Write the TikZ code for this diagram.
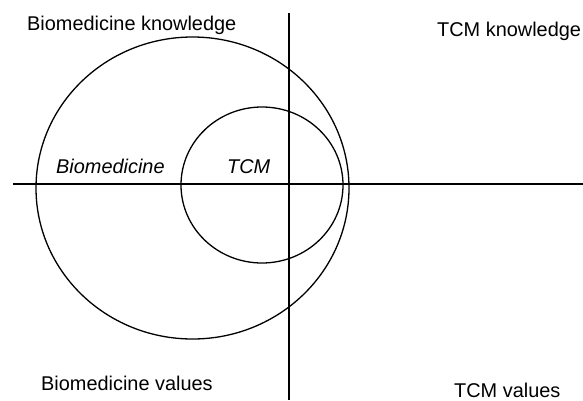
\documentclass[tikz,border=0pt]{standalone}
\usepackage{fontspec}
\setmainfont{Liberation Sans}
\usepackage{tikz}
\usetikzlibrary{positioning}

\begin{document}
\begin{tikzpicture}[x=1pt,y=-1pt,
  label/.style={font=\fontsize{19.9}{20}\selectfont, inner sep=0pt, anchor=base west},
  axis/.style={line width=2pt},
  ring/.style={line width=1.3pt}]
\useasboundingbox (0,0) rectangle (583,400);

% axes
\coordinate (top) at (289, 13);
\coordinate (bottom) at (289, 400);
\coordinate (left) at (13, 184);
\coordinate (right) at (583, 184);
\draw [axis] (top) -- (bottom);
\draw [axis] (left) -- (right);

% the two fields
\draw [ring] (192.5, 188) ellipse [x radius=156.5, y radius=151];
\draw [ring] (262, 185) ellipse [x radius=81, y radius=78];

% quadrant texts
\node (bk) at (27, 30) [label] {Biomedicine knowledge};
\node (tk) at (437, 36) [label] {TCM knowledge};
\node (bv) at (41, 390) [label] {Biomedicine values};
\node (tv) at (454, 397) [label] {TCM values};

\node (bio) at (56, 173) [label] {\itshape Biomedicine};
\node (tcm) at (227, 173) [label] {\itshape TCM};
\end{tikzpicture}
\end{document}
